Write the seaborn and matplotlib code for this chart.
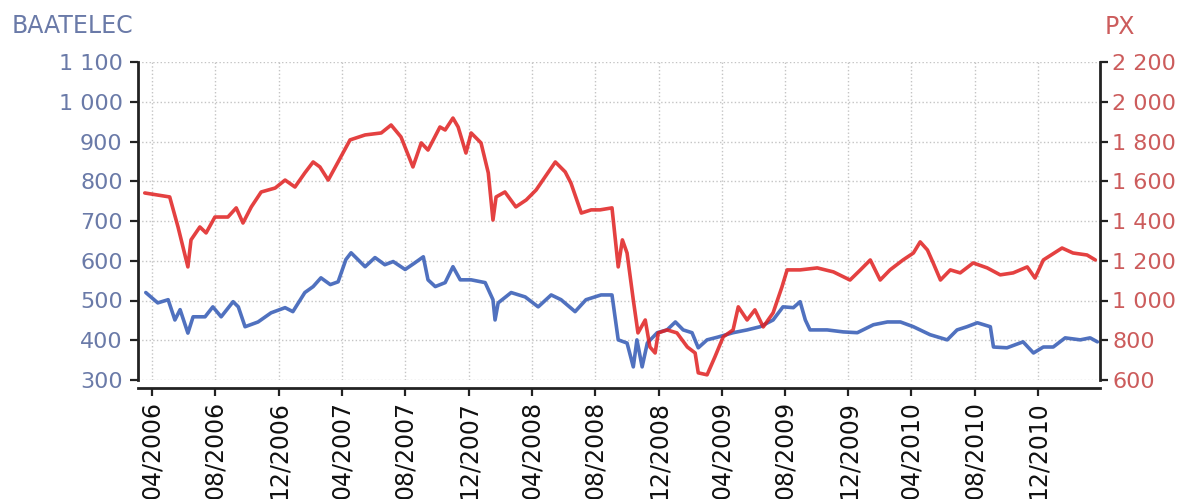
import pandas as pd
import matplotlib
matplotlib.use("Agg")
import matplotlib.pyplot as plt
import matplotlib.dates as mdates
from matplotlib.ticker import FuncFormatter, MultipleLocator
import seaborn as sns

# BAATELEC (left axis, blue)
baatelec_dates = [
    "2006-03-20", "2006-04-12", "2006-05-02", "2006-05-15", "2006-05-25", "2006-06-09",
    "2006-06-19", "2006-07-12", "2006-07-27", "2006-08-12", "2006-09-04", "2006-09-14",
    "2006-09-27", "2006-10-22", "2006-11-16", "2006-12-13", "2006-12-28", "2007-01-20",
    "2007-02-05", "2007-02-20", "2007-03-10", "2007-03-25", "2007-04-09", "2007-04-19",
    "2007-05-16", "2007-06-04", "2007-06-23", "2007-07-09", "2007-08-01", "2007-08-20",
    "2007-09-05", "2007-09-14", "2007-09-28", "2007-10-17", "2007-11-01", "2007-11-15",
    "2007-12-06", "2008-01-02", "2008-01-17", "2008-01-21", "2008-01-27", "2008-02-21",
    "2008-03-19", "2008-04-13", "2008-05-08", "2008-05-27", "2008-06-23", "2008-07-14",
    "2008-08-12", "2008-09-02", "2008-09-14", "2008-10-01", "2008-10-13", "2008-10-20",
    "2008-10-30", "2008-11-09", "2008-11-28", "2008-12-17", "2009-01-02", "2009-01-17",
    "2009-02-03", "2009-02-15", "2009-03-04", "2009-03-25", "2009-04-23", "2009-05-20",
    "2009-06-14", "2009-07-09", "2009-07-28", "2009-08-17", "2009-08-30", "2009-09-09",
    "2009-09-18", "2009-10-21", "2009-11-21", "2009-12-18", "2010-01-18", "2010-02-14",
    "2010-03-11", "2010-04-05", "2010-05-07", "2010-06-09", "2010-06-28", "2010-07-17",
    "2010-08-06", "2010-08-31", "2010-09-06", "2010-10-02", "2010-11-02", "2010-11-22",
    "2010-12-11", "2010-12-30", "2011-01-22", "2011-02-20", "2011-03-11", "2011-03-25",
]
baatelec_values = [
    520, 494, 502, 451, 477, 418,
    459, 459, 484, 459, 497, 484,
    434, 446, 469, 482, 472, 520,
    535, 557, 540, 547, 603, 620,
    585, 608, 590, 598, 578, 595,
    610, 552, 535, 545, 585, 552,
    552, 545, 502, 451, 494, 520,
    509, 484, 514, 502, 472, 502,
    514, 514, 401, 393, 333, 401,
    333, 393, 419, 426, 446, 426,
    419, 381, 401, 408, 419, 426,
    434, 451, 484, 482, 497, 451,
    426, 426, 421, 419, 439, 446,
    446, 434, 414, 401, 426, 434,
    444, 434, 383, 381, 396, 368,
    383, 383, 406, 401, 406, 396,
]

# PX index (right axis, red)
px_dates = [
    "2006-03-18", "2006-05-05", "2006-05-21", "2006-06-09", "2006-06-15", "2006-07-02",
    "2006-07-14", "2006-07-31", "2006-08-25", "2006-09-10", "2006-09-23", "2006-10-09",
    "2006-10-28", "2006-11-24", "2006-12-13", "2007-01-01", "2007-01-20", "2007-02-05",
    "2007-02-18", "2007-03-06", "2007-03-25", "2007-04-17", "2007-05-16", "2007-06-16",
    "2007-07-05", "2007-07-24", "2007-08-16", "2007-09-01", "2007-09-14", "2007-10-07",
    "2007-10-17", "2007-11-01", "2007-11-11", "2007-11-26", "2007-12-06", "2007-12-25",
    "2008-01-08", "2008-01-17", "2008-01-23", "2008-02-09", "2008-03-01", "2008-03-21",
    "2008-04-09", "2008-04-26", "2008-05-16", "2008-06-04", "2008-06-15", "2008-07-05",
    "2008-07-24", "2008-08-10", "2008-09-02", "2008-09-14", "2008-09-22", "2008-10-01",
    "2008-10-13", "2008-10-22", "2008-11-05", "2008-11-14", "2008-11-24", "2008-11-30",
    "2008-12-17", "2009-01-05", "2009-01-25", "2009-02-09", "2009-02-15", "2009-03-04",
    "2009-03-19", "2009-04-04", "2009-04-23", "2009-05-03", "2009-05-20", "2009-06-04",
    "2009-06-20", "2009-07-09", "2009-07-26", "2009-08-05", "2009-08-30", "2009-10-02",
    "2009-11-02", "2009-12-04", "2009-12-24", "2010-01-12", "2010-01-31", "2010-02-19",
    "2010-03-16", "2010-04-05", "2010-04-18", "2010-05-02", "2010-05-13", "2010-05-27",
    "2010-06-15", "2010-07-04", "2010-07-29", "2010-08-25", "2010-09-19", "2010-10-14",
    "2010-11-10", "2010-11-25", "2010-12-11", "2011-01-16", "2011-02-06", "2011-03-05",
    "2011-03-21",
]
px_values = [
    1541, 1521, 1370, 1169, 1305, 1370,
    1340, 1420, 1420, 1466, 1390, 1471,
    1546, 1566, 1606, 1571, 1642, 1697,
    1672, 1606, 1697, 1808, 1833, 1843,
    1883, 1823, 1672, 1793, 1757, 1873,
    1858, 1918, 1873, 1742, 1843, 1793,
    1642, 1405, 1521, 1546, 1471, 1506,
    1556, 1621, 1697, 1647, 1591, 1440,
    1456, 1456, 1466, 1169, 1305, 1239,
    1003, 837, 902, 766, 736, 837,
    852, 837, 766, 736, 636, 626,
    716, 817, 852, 968, 902, 953,
    867, 938, 1068, 1154, 1154, 1164,
    1144, 1103, 1154, 1204, 1103, 1154,
    1204, 1239, 1295, 1254, 1189, 1103,
    1154, 1139, 1189, 1164, 1129, 1139,
    1169, 1113, 1204, 1264, 1239, 1229,
    1204,
]

df_baa = pd.DataFrame({"date": pd.to_datetime(baatelec_dates), "value": baatelec_values})
df_px = pd.DataFrame({"date": pd.to_datetime(px_dates), "value": px_values})

blue = "#3d62b8"
red = "#e01f1f"
blue_text = "#6a7aa8"
red_text = "#cc5c5c"

sns.set_style("white")
plt.rcParams["font.family"] = ["DejaVu Sans"]

fig = plt.figure(figsize=(11.99, 4.99), dpi=100)
ax = fig.add_axes([138 / 1199, 1 - 380 / 499, 962 / 1199, 318 / 499])
ax2 = ax.twinx()

sns.lineplot(data=df_baa, x="date", y="value", ax=ax, color=blue, linewidth=2.6, alpha=0.9)
sns.lineplot(data=df_px, x="date", y="value", ax=ax2, color=red, linewidth=2.6, alpha=0.85)

ax.set_xlim(pd.Timestamp("2006-03-05"), pd.Timestamp("2011-03-30"))
ax.set_ylim(300, 1100)
ax2.set_ylim(600, 2200)

thousands = FuncFormatter(lambda v, _: f"{int(v):,}".replace(",", " "))
ax.yaxis.set_major_locator(MultipleLocator(100))
ax2.yaxis.set_major_locator(MultipleLocator(200))
ax.yaxis.set_major_formatter(thousands)
ax2.yaxis.set_major_formatter(thousands)

ax.xaxis.set_major_locator(mdates.MonthLocator(bymonth=[4, 8, 12]))
ax.xaxis.set_major_formatter(mdates.DateFormatter("%m/%Y"))

ax.set_xlabel("")
ax.set_ylabel("")
ax2.set_ylabel("")

# grid
ax.grid(True, linestyle=":", color="#c4c4c4", linewidth=1)

# spines
for a in (ax, ax2):
    a.spines["top"].set_visible(False)
ax.spines["right"].set_visible(False)
ax2.spines["left"].set_visible(False)
ax2.spines["bottom"].set_visible(False)
ax.spines["left"].set_linewidth(2)
ax.spines["left"].set_color("#222222")
ax2.spines["right"].set_linewidth(2)
ax2.spines["right"].set_color("#222222")
ax.spines["bottom"].set_linewidth(2)
ax.spines["bottom"].set_color("#222222")
ax.spines["bottom"].set_position(("outward", 6))

ax.tick_params(axis="y", colors="#222222", labelcolor=blue_text, labelsize=16,
               length=6, width=1.6, direction="out", pad=5)
ax2.tick_params(axis="y", colors="#222222", labelcolor=red_text, labelsize=16,
                length=6, width=1.6, direction="out", pad=3)
ax.tick_params(axis="x", colors="#222222", labelcolor="#111111", labelsize=17,
               length=6, width=1.6, direction="out", pad=3, labelrotation=90)
ax.tick_params(left=True, bottom=True)
ax2.tick_params(right=True)

fig.text(12 / 1199, 1 - 26 / 499, "BAATELEC", color=blue_text, fontsize=17,
         ha="left", va="center")
fig.text(1120 / 1199, 1 - 27 / 499, "PX", color=red_text, fontsize=17,
         ha="center", va="center")

fig.savefig("out.png", dpi=100)
